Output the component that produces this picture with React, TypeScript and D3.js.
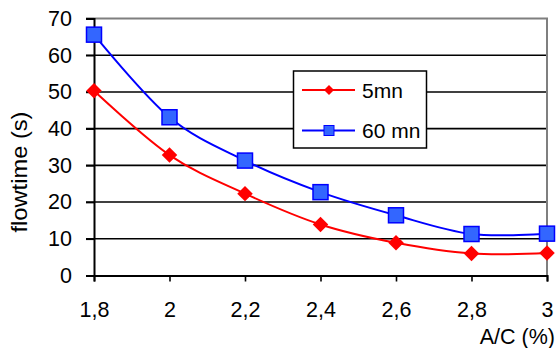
import React, { useEffect, useRef } from 'react';
import * as d3 from 'd3';

// A/C (%) on x, flowtime (s) on y
const acValues = [1.8, 2, 2.2, 2.4, 2.6, 2.8, 3];
const xTickLabels = ['1,8', '2', '2,2', '2,4', '2,6', '2,8', '3'];
const yTicks = [0, 10, 20, 30, 40, 50, 60, 70];
const flow5mn = [50.3, 32.8, 22.3, 13.9, 8.9, 6.0, 6.1];
const flow60mn = [65.6, 43.1, 31.3, 22.7, 16.4, 11.3, 11.4];
const seriesNames = ['5mn', '60 mn'];

export default function App() {
  const svgRef = useRef<SVGSVGElement>(null);

  useEffect(() => {
    const svg = d3.select(svgRef.current);
    svg.selectAll('*').remove();

    const font = 'Liberation Sans, Arial, sans-serif';
    const x = d3.scaleLinear().domain([1.8, 3]).range([94, 547]);
    const y = d3.scaleLinear().domain([0, 70]).range([275.5, 18.5]);

    // gridlines
    const grid = svg.append('g');
    grid.selectAll('line')
      .data(yTicks.filter(t => t > 0 && t < 70))
      .enter()
      .append('line')
      .attr('x1', 86).attr('x2', x(3))
      .attr('y1', d => y(d)).attr('y2', d => y(d))
      .attr('stroke', '#000').attr('stroke-width', 1.6);

    // plot border (top + right, grey)
    svg.append('path')
      .attr('d', `M${x(1.8)},${y(70)}H${x(3)}V${y(0)}`)
      .attr('fill', 'none').attr('stroke', '#7f7f7f').attr('stroke-width', 2);
    svg.append('line')
      .attr('x1', 86).attr('x2', x(1.8)).attr('y1', y(70)).attr('y2', y(70))
      .attr('stroke', '#000').attr('stroke-width', 1.6);

    // y axis
    const yAxis = svg.append('g')
      .attr('transform', `translate(${x(1.8)},0)`)
      .call(d3.axisLeft(y).tickValues(yTicks).tickSize(8).tickPadding(14).tickFormat(d3.format('d')));
    yAxis.select('.domain').attr('stroke', '#000').attr('stroke-width', 2);
    yAxis.selectAll('.tick line').attr('stroke', '#000').attr('stroke-width', 1.6);
    yAxis.selectAll('.tick text')
      .attr('font-family', font).attr('font-size', 21.5).attr('fill', '#000');

    // x axis
    const xAxis = svg.append('g')
      .attr('transform', `translate(0,${y(0)})`)
      .call(d3.axisBottom(x).tickValues(acValues).tickSize(6).tickPadding(20)
        .tickFormat((d, i) => xTickLabels[i]));
    xAxis.select('.domain').attr('stroke', '#000').attr('stroke-width', 2);
    xAxis.selectAll('.tick line').attr('stroke', '#000').attr('stroke-width', 1.6);
    xAxis.selectAll('.tick text')
      .attr('font-family', font).attr('font-size', 21.5).attr('fill', '#000');

    // axis titles
    svg.append('text')
      .attr('x', 555).attr('y', 344)
      .attr('text-anchor', 'end')
      .attr('font-family', font).attr('font-size', 21.5)
      .text('A/C (%)');
    svg.append('text')
      .attr('transform', 'translate(27,172) rotate(-90)')
      .attr('text-anchor', 'middle')
      .attr('font-family', font).attr('font-size', 21.5)
      .attr('textLength', 121).attr('lengthAdjust', 'spacingAndGlyphs')
      .text('flowtime (s)');

    const line = d3.line<number>()
      .x((d, i) => x(acValues[i]))
      .y(d => y(d))
      .curve(d3.curveCatmullRom.alpha(0));

    // 5mn red
    svg.append('path').datum(flow5mn)
      .attr('d', line).attr('fill', 'none').attr('stroke', '#ff0000').attr('stroke-width', 2);
    svg.append('g').selectAll('path')
      .data(flow5mn).enter().append('path')
      .attr('d', d3.symbol(d3.symbolSquare, 120)())
      .attr('transform', (d, i) => `translate(${x(acValues[i])},${y(d)}) rotate(45)`)
      .attr('fill', '#ff0000');

    // 60 mn blue
    svg.append('path').datum(flow60mn)
      .attr('d', line).attr('fill', 'none').attr('stroke', '#0000ff').attr('stroke-width', 2);
    svg.append('g').selectAll('rect')
      .data(flow60mn).enter().append('rect')
      .attr('x', (d, i) => x(acValues[i]) - 7.5)
      .attr('y', d => y(d) - 7.5)
      .attr('width', 15).attr('height', 15)
      .attr('fill', '#3366ff').attr('stroke', '#0000ff').attr('stroke-width', 1.5);

    // legend
    const lg = svg.append('g');
    lg.append('rect')
      .attr('x', 293.5).attr('y', 71).attr('width', 133).attr('height', 77)
      .attr('fill', '#fff').attr('stroke', '#000').attr('stroke-width', 1.5);
    const rows = [
      { name: seriesNames[0], color: '#ff0000', y: 90 },
      { name: seriesNames[1], color: '#0000ff', y: 130.5 },
    ];
    rows.forEach((r, i) => {
      lg.append('line')
        .attr('x1', 302).attr('x2', 355).attr('y1', r.y).attr('y2', r.y)
        .attr('stroke', r.color).attr('stroke-width', 2);
      if (i === 0) {
        lg.append('path')
          .attr('d', d3.symbol(d3.symbolSquare, 50)())
          .attr('transform', `translate(329,${r.y}) rotate(45)`)
          .attr('fill', '#ff0000');
      } else {
        lg.append('rect')
          .attr('x', 324).attr('y', r.y - 5).attr('width', 10).attr('height', 10)
          .attr('fill', '#3366ff').attr('stroke', '#0000ff').attr('stroke-width', 1);
      }
      lg.append('text')
        .attr('x', 362).attr('y', r.y + 7.5)
        .attr('font-family', font).attr('font-size', 21)
        .text(r.name);
    });
  }, []);

  return (
    <div style={{ position: 'fixed', left: 0, top: 0 }}>
      <svg ref={svgRef} width={558} height={348} style={{ display: 'block', background: '#fff' }} />
    </div>
  );
}
